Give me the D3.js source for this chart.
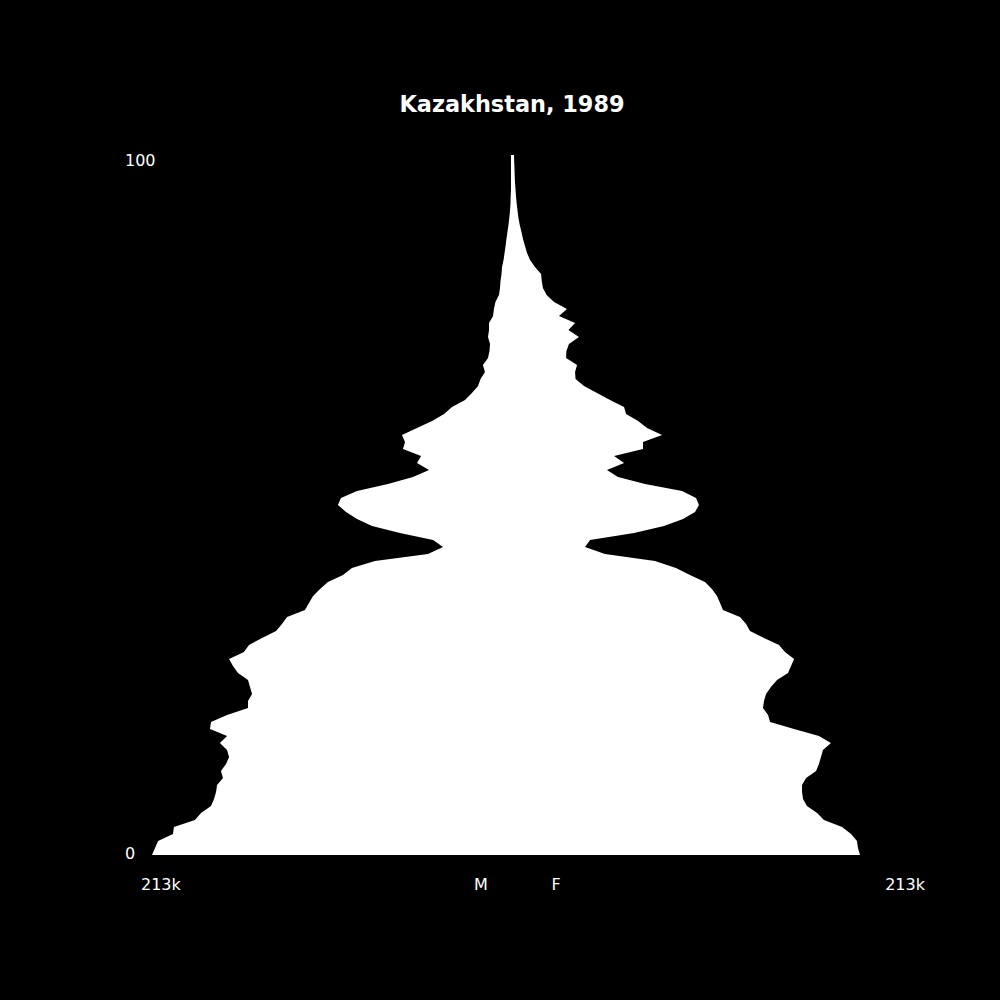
<!DOCTYPE html>
<html>
<head>
<meta charset="utf-8">
<script src="https://cdn.jsdelivr.net/npm/d3@7/dist/d3.min.js"></script>
<style>
	body { margin: 0; background: #000; }
	text { font-family: "DejaVu Sans", sans-serif; fill: #fff; }
</style>
</head>
<body>
<div class="pyramidDiv"></div>
<script>

// population by single year of age, thousands (age 0 .. 100)
var ages = d3.range(0, 101);

var male = [
	213.0, 211.2, 209.4, 200.6, 200.0, 187.6, 184.0, 178.1, 176.3, 175.1,
	174.5, 171.0, 172.2, 169.2, 167.4, 168.6, 172.8, 168.6, 178.7, 178.1,
	168.6, 156.2, 156.2, 153.8, 155.0, 156.2, 162.1, 165.1, 167.4, 158.6,
	155.6, 147.9, 139.6, 136.1, 133.1, 122.5, 120.1, 117.7, 113.6, 108.9,
	100.0, 94.7, 81.1, 49.7, 40.8, 46.7, 66.3, 82.8, 91.7, 98.2,
	103.0, 101.2, 91.7, 73.4, 58.6, 49.1, 56.2, 53.8, 64.5, 63.3,
	65.1, 56.2, 47.3, 40.2, 35.5, 27.8, 23.7, 20.1, 18.6, 16.0,
	17.2, 14.2, 13.3, 13.0, 14.2, 13.6, 13.6, 11.2, 10.7, 9.8,
	7.7, 7.1, 6.8, 6.2, 5.9, 5.0, 4.4, 3.8, 3.3, 2.7,
	2.1, 1.6, 1.2, 0.9, 0.8, 0.6, 0.6, 0.6, 0.6, 0.6,
	0.6
];

var female = [
	205.9, 204.7, 204.1, 200.6, 195.3, 184.6, 180.5, 174.5, 172.2, 171.6,
	171.6, 174.0, 179.9, 181.6, 182.8, 184.0, 188.7, 181.6, 166.9, 152.7,
	151.5, 148.5, 149.1, 150.3, 153.2, 156.8, 163.3, 165.1, 166.9, 161.5,
	158.0, 149.1, 140.8, 138.5, 134.9, 124.8, 123.1, 121.3, 118.3, 114.2,
	105.3, 97.0, 84.6, 55.0, 43.2, 46.2, 72.2, 89.9, 101.2, 108.3,
	110.6, 108.9, 100.6, 78.7, 62.7, 56.2, 66.3, 60.4, 77.5, 77.5,
	88.8, 79.9, 74.6, 67.5, 66.3, 58.0, 50.3, 42.6, 37.6, 37.3,
	38.5, 32.0, 32.2, 33.7, 39.6, 33.4, 37.3, 27.8, 32.5, 24.9,
	20.5, 18.3, 17.6, 17.2, 13.6, 10.7, 8.9, 7.7, 6.5, 5.6,
	4.6, 3.8, 3.3, 2.8, 2.4, 2.1, 1.8, 1.6, 1.5, 1.3,
	1.2
];

var title = "Kazakhstan, 1989";
var ageTicks = [0, 100];
var maxLabel = "213k";

pyramid();

function pyramid()
{
	var width = 1000, height = 1000;
	var center = 512;
	var maxValue = 213;

	var svg = d3.select(".pyramidDiv").append("svg")
		.attr("width", width)
		.attr("height", height)
		.style("background", "#000")
		.style("display", "block");

	var yScale = d3.scaleLinear().domain([0, 100]).range([855, 155]);
	var xMale = d3.scaleLinear().domain([0, maxValue]).range([center, 152]);
	var xFemale = d3.scaleLinear().domain([0, maxValue]).range([center, 872]);

	// one closed outline: up the male side, back down the female side
	var pts = ages.map(function (a, i) { return [xMale(male[i]), yScale(a)]; })
		.concat(ages.slice().reverse().map(function (a) { return [xFemale(female[a]), yScale(a)]; }));

	svg.append("path")
		.attr("d", d3.line()(pts) + "Z")
		.style("fill", "#fff")
		.style("stroke", "none");

	svg.append("text")
		.attr("x", center)
		.attr("y", 112)
		.attr("text-anchor", "middle")
		.style("font-size", "22.4px")
		.style("font-weight", "bold")
		.text(title);

	// age labels
	svg.selectAll(".ageLabel")
		.data(ageTicks)
		.enter().append("text")
		.attr("class", "ageLabel")
		.attr("x", 125)
		.attr("y", function (d) { return d == 0 ? yScale(d) + 4 : yScale(d) + 11; })
		.style("font-size", "16px")
		.text(String);

	// bottom labels
	var bottom = 890;
	svg.append("text").attr("x", 141).attr("y", bottom).style("font-size", "16px").text(maxLabel);
	svg.append("text").attr("x", 925).attr("y", bottom).attr("text-anchor", "end").style("font-size", "16px").text(maxLabel);
	svg.append("text").attr("x", 481).attr("y", bottom).attr("text-anchor", "middle").style("font-size", "16px").text("M");
	svg.append("text").attr("x", 556).attr("y", bottom).attr("text-anchor", "middle").style("font-size", "16px").text("F");
}
</script>
</body>
</html>
